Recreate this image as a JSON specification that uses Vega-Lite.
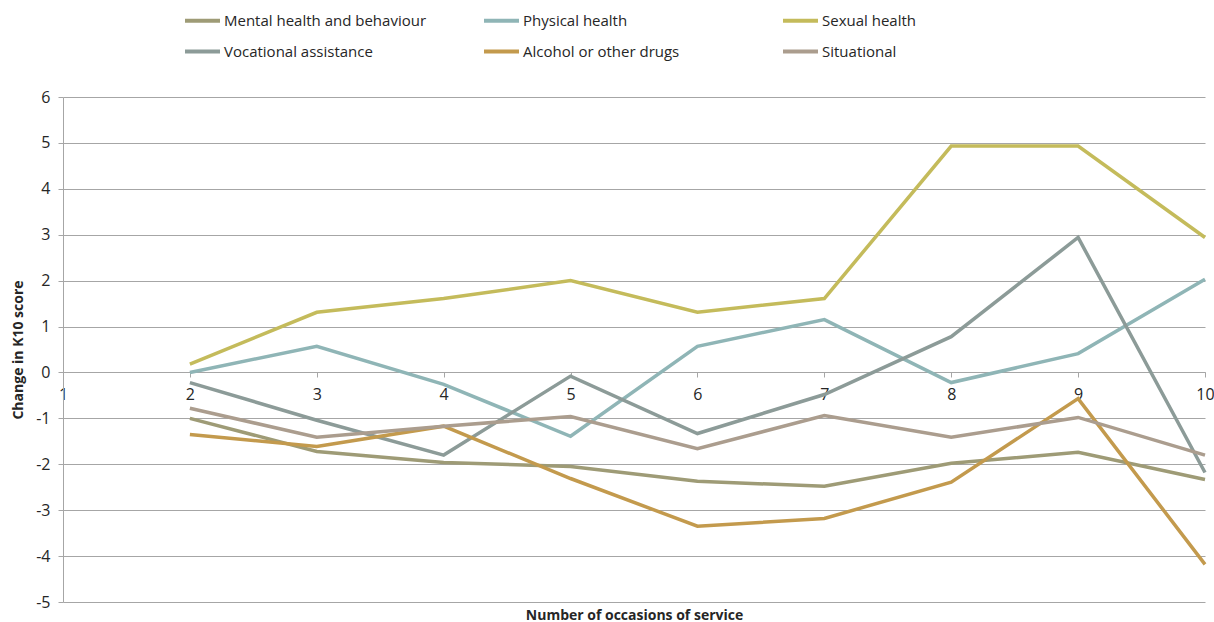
{
  "$schema": "https://vega.github.io/schema/vega-lite/v6.json",
  "width": 1142,
  "height": 505,
  "autosize": {"type": "none"},
  "padding": {"left": 63, "top": 97, "right": 9, "bottom": 20},
  "background": "white",
  "config": {
    "view": {"stroke": null},
    "font": "Open Sans"
  },
  "data": {
    "values": [
      {"occasions": 2, "category": "Mental health and behaviour", "change": -1.0},
      {"occasions": 3, "category": "Mental health and behaviour", "change": -1.72},
      {"occasions": 4, "category": "Mental health and behaviour", "change": -1.96},
      {"occasions": 5, "category": "Mental health and behaviour", "change": -2.05},
      {"occasions": 6, "category": "Mental health and behaviour", "change": -2.37},
      {"occasions": 7, "category": "Mental health and behaviour", "change": -2.48},
      {"occasions": 8, "category": "Mental health and behaviour", "change": -1.98},
      {"occasions": 9, "category": "Mental health and behaviour", "change": -1.74},
      {"occasions": 10, "category": "Mental health and behaviour", "change": -2.33},
      {"occasions": 2, "category": "Physical health", "change": 0.0},
      {"occasions": 3, "category": "Physical health", "change": 0.57},
      {"occasions": 4, "category": "Physical health", "change": -0.26},
      {"occasions": 5, "category": "Physical health", "change": -1.39},
      {"occasions": 6, "category": "Physical health", "change": 0.57},
      {"occasions": 7, "category": "Physical health", "change": 1.15},
      {"occasions": 8, "category": "Physical health", "change": -0.22},
      {"occasions": 9, "category": "Physical health", "change": 0.41},
      {"occasions": 10, "category": "Physical health", "change": 2.03},
      {"occasions": 2, "category": "Sexual health", "change": 0.18},
      {"occasions": 3, "category": "Sexual health", "change": 1.31},
      {"occasions": 4, "category": "Sexual health", "change": 1.61},
      {"occasions": 5, "category": "Sexual health", "change": 2.0},
      {"occasions": 6, "category": "Sexual health", "change": 1.31},
      {"occasions": 7, "category": "Sexual health", "change": 1.61},
      {"occasions": 8, "category": "Sexual health", "change": 4.93},
      {"occasions": 9, "category": "Sexual health", "change": 4.93},
      {"occasions": 10, "category": "Sexual health", "change": 2.94},
      {"occasions": 2, "category": "Vocational assistance", "change": -0.22},
      {"occasions": 3, "category": "Vocational assistance", "change": -1.04},
      {"occasions": 4, "category": "Vocational assistance", "change": -1.8},
      {"occasions": 5, "category": "Vocational assistance", "change": -0.08},
      {"occasions": 6, "category": "Vocational assistance", "change": -1.33},
      {"occasions": 7, "category": "Vocational assistance", "change": -0.48},
      {"occasions": 8, "category": "Vocational assistance", "change": 0.78},
      {"occasions": 9, "category": "Vocational assistance", "change": 2.94},
      {"occasions": 10, "category": "Vocational assistance", "change": -2.18},
      {"occasions": 2, "category": "Alcohol or other drugs", "change": -1.35},
      {"occasions": 3, "category": "Alcohol or other drugs", "change": -1.61},
      {"occasions": 4, "category": "Alcohol or other drugs", "change": -1.17},
      {"occasions": 5, "category": "Alcohol or other drugs", "change": -2.31},
      {"occasions": 6, "category": "Alcohol or other drugs", "change": -3.35},
      {"occasions": 7, "category": "Alcohol or other drugs", "change": -3.18},
      {"occasions": 8, "category": "Alcohol or other drugs", "change": -2.39},
      {"occasions": 9, "category": "Alcohol or other drugs", "change": -0.57},
      {"occasions": 10, "category": "Alcohol or other drugs", "change": -4.18},
      {"occasions": 2, "category": "Situational", "change": -0.78},
      {"occasions": 3, "category": "Situational", "change": -1.41},
      {"occasions": 4, "category": "Situational", "change": -1.17},
      {"occasions": 5, "category": "Situational", "change": -0.96},
      {"occasions": 6, "category": "Situational", "change": -1.66},
      {"occasions": 7, "category": "Situational", "change": -0.94},
      {"occasions": 8, "category": "Situational", "change": -1.41},
      {"occasions": 9, "category": "Situational", "change": -0.98},
      {"occasions": 10, "category": "Situational", "change": -1.8}
    ]
  },
  "mark": {"type": "line", "strokeWidth": 3.5, "clip": false},
  "encoding": {
    "x": {
      "field": "occasions",
      "type": "quantitative",
      "scale": {"domain": [1, 10], "nice": false, "zero": false},
      "axis": {
        "title": "Number of occasions of service",
        "titleFontSize": 14,
        "titleFontWeight": "bold",
        "titleColor": "#262626",
        "titleY": 243,
        "titleBaseline": "middle",
        "offset": -230,
        "values": [1, 2, 3, 4, 5, 6, 7, 8, 9, 10],
        "format": "d",
        "grid": false,
        "domainColor": "#a6a6a6",
        "domainWidth": 1,
        "tickColor": "#a6a6a6",
        "tickSize": 5,
        "labelFontSize": 16,
        "labelColor": "#262626",
        "labelPadding": 9,
        "labelFlush": false,
        "labelOverlap": false
      }
    },
    "y": {
      "field": "change",
      "type": "quantitative",
      "scale": {"domain": [-5, 6], "nice": false, "zero": false},
      "axis": {
        "title": "Change in K10 score",
        "titleFontSize": 14,
        "titleFontWeight": "bold",
        "titleColor": "#262626",
        "titleX": -45,
        "titleBaseline": "middle",
        "values": [-5, -4, -3, -2, -1, 0, 1, 2, 3, 4, 5, 6],
        "labelExpr": "toString(datum.value)",
        "grid": true,
        "gridColor": "#a6a6a6",
        "gridWidth": 1,
        "domainColor": "#a6a6a6",
        "tickColor": "#a6a6a6",
        "tickSize": 5,
        "labelFontSize": 16,
        "labelColor": "#262626",
        "labelPadding": 8
      }
    },
    "color": {
      "field": "category",
      "type": "nominal",
      "scale": {
        "domain": ["Mental health and behaviour", "Physical health", "Sexual health", "Vocational assistance", "Alcohol or other drugs", "Situational"],
        "range": ["#9e9b76", "#8fb5b6", "#c4bb5b", "#8c9b98", "#c39a4d", "#ab9d8e"]
      },
      "legend": {
        "title": null,
        "orient": "none",
        "legendX": 120,
        "legendY": -96,
        "direction": "horizontal",
        "columns": 3,
        "gridAlign": "all",
        "columnPadding": 49,
        "rowPadding": 3,
        "symbolType": "stroke",
        "symbolSize": 1225,
        "symbolStrokeWidth": 4,
        "labelFontSize": 15,
        "labelColor": "#262626",
        "labelOffset": 2,
        "labelLimit": 400
      }
    }
  }
}
